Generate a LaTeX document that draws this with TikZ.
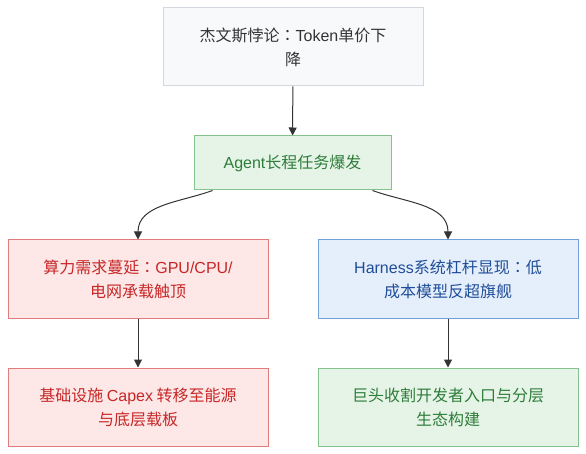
\documentclass[tikz,border=0pt]{standalone}
\usepackage{fontspec}
\setmainfont{Noto Sans CJK SC}
\newfontfamily\latin{Liberation Sans}
\newfontfamily\midcolonfont{Noto Sans CJK TC}
\newcommand{\zhcolon}{{\midcolonfont ：}}
\usetikzlibrary{arrows.meta}

\definecolor{graytext}{HTML}{333333}
\definecolor{grayfill}{HTML}{F8F9FB}
\definecolor{grayline}{HTML}{D3D8DE}
\definecolor{greentext}{HTML}{2E7D3A}
\definecolor{greenfill}{HTML}{E6F4E7}
\definecolor{greenline}{HTML}{86C28C}
\definecolor{redtext}{HTML}{C62828}
\definecolor{redfill}{HTML}{FDE7E7}
\definecolor{redline}{HTML}{E07C7C}
\definecolor{bluetext}{HTML}{1F4E99}
\definecolor{bluefill}{HTML}{E5EEFB}
\definecolor{blueline}{HTML}{74A0D8}
\definecolor{arrowgray}{HTML}{333333}

\tikzset{
    box/.style={draw, rectangle, line width=1pt, align=center, inner sep=0pt,
        minimum width=260pt, minimum height=78pt,
        font=\fontsize{16}{24}\selectfont},
    graybox/.style={box, fill=grayfill, draw=grayline, text=graytext},
    greenbox/.style={box, fill=greenfill, draw=greenline, text=greentext},
    redbox/.style={box, fill=redfill, draw=redline, text=redtext},
    bluebox/.style={box, fill=bluefill, draw=blueline, text=bluetext},
    arr/.style={-{Triangle[length=8pt,width=8pt]}, line width=1pt, draw=arrowgray}
}

\begin{document}
\begin{tikzpicture}[x=1pt,y=-1pt]
    % Fix the page size
    \useasboundingbox (0,0) rectangle (586,454);

    % Draw the boxes
    \node[graybox] (jevons) at (293,47) {杰文斯悖论\zhcolon{\latin Token}单价下\\降};
    \node[greenbox, minimum width=197pt, minimum height=54pt] (agent) at (292.5,163) {{\latin Agent}长程任务爆发};
    \node[redbox] (compute) at (138,279) {算力需求蔓延\zhcolon{\latin GPU/CPU/}\\电网承载触顶};
    \node[bluebox] (harness) at (448,279) {{\latin Harness}系统杠杆显现\zhcolon 低\\成本模型反超旗舰};
    \node[redbox] (capex) at (138,407) {基础设施 {\latin Capex} 转移至能源\\与底层载板};
    \node[greenbox] (giants) at (448,407) {巨头收割开发者入口与分层\\生态构建};

    % Draw the straight arrows
    \foreach \a/\b in {jevons/agent, compute/capex, harness/giants} {
        \draw[arr] (\a) -- (\b);
    }

    % Draw the curved arrows out of the agent box
    \draw[arr] ([xshift=-80pt]agent.south) to[out=200, in=90] (compute.north);
    \draw[arr] ([xshift=80pt]agent.south) to[out=-20, in=90] (harness.north);

\end{tikzpicture}
\end{document}
